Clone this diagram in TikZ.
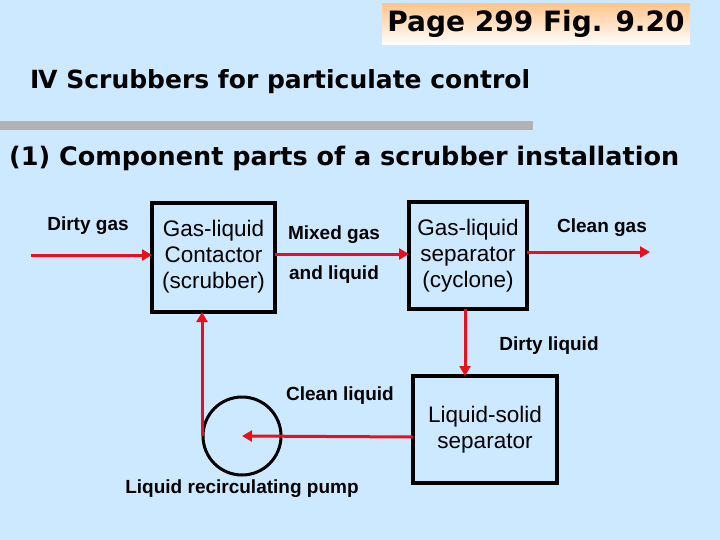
\documentclass[tikz,border=0pt]{standalone}
\usepackage{fontspec}
\setmainfont{Liberation Sans}
\newfontfamily\vfont{DejaVu Sans}
\usetikzlibrary{arrows.meta}
\definecolor{bg}{HTML}{CCE9FF}
\definecolor{arr}{HTML}{E8101A}
\begin{document}
\begin{tikzpicture}[x=1pt,y=-1pt,
  blk/.style={draw=black,line width=3.5pt},
  flow/.style={draw=arr,line width=3pt,-{Triangle[length=10pt,width=11pt]}},
  lbl/.style={font=\bfseries\fontsize{19}{21}\selectfont,inner sep=0pt},
  btxt/.style={font=\fontsize{22.5}{26}\selectfont,align=center,inner sep=0pt}]
\fill[bg] (0,0) rectangle (720,540);
\useasboundingbox (0,0) rectangle (720,540);
\shade[top color=orange!45,bottom color=white] (382,4) rectangle (690,45);
\node[font=\vfont\bfseries\fontsize{28}{30}\selectfont,inner sep=0pt] (title) at (536,24) {Page 299 Fig. 9.20};
\node[font=\vfont\bfseries\fontsize{25}{28}\selectfont,anchor=west,inner sep=0pt] (head) at (30,82) {Ⅳ\ Scrubbers for particulate control};
\fill[gray!60] (0,121) rectangle (533,130);
\node[font=\vfont\bfseries\fontsize{25.5}{28}\selectfont,anchor=west,inner sep=0pt] (sub) at (9,158) {(1) Component parts of a scrubber installation};
\draw[blk] (152,203) rectangle (275,312);
\draw[blk] (409,202) rectangle (527,309);
\draw[blk] (413,376) rectangle (557,483);
\node[btxt] (b1) at (213.5,257) {Gas-liquid\\Contactor\\(scrubber)};
\node[btxt] (b2) at (468,256) {Gas-liquid\\separator\\(cyclone)};
\node[btxt] (b3) at (485,430) {Liquid-solid\\separator};
\draw[black,line width=3pt] (242,436) circle (39);
\coordinate (pc) at (242,436);
\coordinate (in1) at (31,255);
\coordinate (out1) at (650,252);
\draw[flow] (in1) -- (152,255);
\draw[flow] (275,254) -- (409,254);
\draw[flow] (527,252) -- (out1);
\draw[flow] (465,309) -- (465,376);
\draw[flow] (413,437) -- (pc);
\draw[flow] (202,436) -- (202,312);
\node[lbl] (l1) at (88,226) {Dirty gas};
\node[lbl] (l2) at (334,235) {Mixed gas};
\node[lbl] (l3) at (334,275) {and liquid};
\node[lbl] (l4) at (602,228) {Clean gas};
\node[lbl] (l5) at (549,346) {Dirty liquid};
\node[lbl] (l6) at (340,396) {Clean liquid};
\node[lbl] (l7) at (242,489) {Liquid recirculating pump};
\end{tikzpicture}
\end{document}
